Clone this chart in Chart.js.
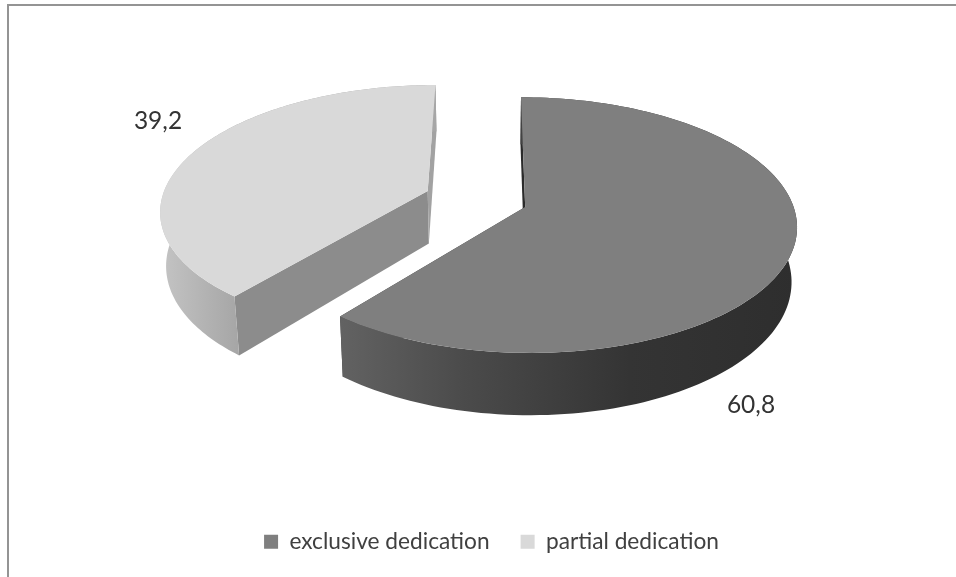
<!DOCTYPE html>
<html>
<head>
<meta charset="utf-8">
<title>Dedication</title>
<script src="https://cdn.jsdelivr.net/npm/chart.js@4/dist/chart.umd.min.js"></script>
<style>
    html, body { margin: 0; padding: 0; background: #fff; overflow: hidden; }
    #frame {
        position: absolute; left: 7px; top: 4px; right: 0; bottom: 0;
        border-top: 2px solid #949494; border-left: 2px solid #949494;
    }
    #dedicationChart { position: absolute; left: 0; top: 0; }
</style>
</head>
<body>
<div id="frame"></div>
<canvas id="dedicationChart" width="956" height="577"></canvas>
<script>
// Chart data
const categories = ['exclusive dedication', 'partial dedication'];
const shares = [60.8, 39.2];

// Colours per slice
const topColors = ['#7f7f7f', '#d9d9d9'];
const startCutColors = ['#2b2b2b', '#8c8c8c'];
const endCutColors = ['#3a3a3a', '#a2a2a2'];
const wallStops = [
    [[341, '#626262'], [463, '#4b4b4b'], [630, '#343434'], [796, '#2e2e2e']],
    [[161, '#c4c4c4'], [238, '#a6a6a6']]
];
const labelSpots = [[751, 405], [158, 121]];

// Perspective settings for the tilted pie
const view = {
    halfWidth: 266,     // px across for one radius
    halfDepth: 123,     // px down for one radius
    lean: 0.14,         // how fast things shrink going away from the viewer
    panX: -15.5,
    originY: 199,
    thickness: 53,
    baseShrink: 0.982
};

// Turns a point of the flat pie (in radius units) into canvas coordinates
function project(arc, pu, pv, atBase) {
    const w = 1 - view.lean * pv;
    let x = (pu * view.halfWidth + view.panX) / w;
    let y = view.originY + pv * view.halfDepth / w;
    if (atBase) {
        x *= view.baseShrink;
        y += view.thickness / w;
    }
    return [arc.x + x, y];
}

function pieOutline(ctx, points) {
    ctx.beginPath();
    points.forEach((p, i) => (i ? ctx.lineTo(p[0], p[1]) : ctx.moveTo(p[0], p[1])));
    ctx.closePath();
}

function drawSlice(chart, ctx, arc, index) {
    const R = arc.outerRadius;
    const mid = (arc.startAngle + arc.endAngle) / 2;
    const shift = (arc.options.offset || 0) / 4 / R;
    const ox = Math.cos(mid) * shift;
    const oy = Math.sin(mid) * shift;

    const steps = 140;
    const rimAngles = [];
    for (let i = 0; i <= steps; i++) {
        rimAngles.push(arc.startAngle + (arc.endAngle - arc.startAngle) * i / steps);
    }
    const rim = base => rimAngles.map(a => project(arc, ox + Math.cos(a), oy + Math.sin(a), base));
    const rimTop = rim(false);
    const rimBase = rim(true);
    const apexTop = project(arc, ox, oy, false);
    const apexBase = project(arc, ox, oy, true);

    // cut faces first, the top face hides whatever is turned away
    ctx.fillStyle = startCutColors[index];
    pieOutline(ctx, [apexTop, rimTop[0], rimBase[0], apexBase]);
    ctx.fill();
    ctx.fillStyle = endCutColors[index];
    pieOutline(ctx, [apexTop, rimTop[steps], rimBase[steps], apexBase]);
    ctx.fill();

    // outer wall
    const stops = wallStops[index];
    const x0 = stops[0][0];
    const x1 = stops[stops.length - 1][0];
    const grad = ctx.createLinearGradient(x0, 0, x1, 0);
    stops.forEach(s => grad.addColorStop((s[0] - x0) / (x1 - x0), s[1]));
    ctx.fillStyle = grad;
    pieOutline(ctx, rimTop.concat(rimBase.slice().reverse()));
    ctx.fill();

    // top face
    ctx.fillStyle = arc.options.backgroundColor;
    pieOutline(ctx, [apexTop].concat(rimTop));
    ctx.fill();
}

const tiltedPie = {
    id: 'tiltedPie',
    beforeDatasetDraw(chart, args) {
        const ctx = chart.ctx;
        ctx.save();
        args.meta.data.forEach((arc, i) => drawSlice(chart, ctx, arc, i));
        ctx.restore();
        return false;
    },
    afterDatasetsDraw(chart) {
        const ctx = chart.ctx;
        ctx.save();
        ctx.font = '24.5px Lato';
        ctx.fillStyle = '#333333';
        ctx.textAlign = 'center';
        ctx.textBaseline = 'middle';
        shares.forEach((v, i) => {
            ctx.fillText(String(v).replace('.', ','), labelSpots[i][0], labelSpots[i][1]);
        });
        ctx.restore();
    }
};

new Chart(document.getElementById('dedicationChart'), {
    type: 'pie',
    data: {
        labels: categories,
        datasets: [{
            data: shares,
            backgroundColor: topColors,
            borderWidth: 0,
            offset: 140
        }]
    },
    options: {
        responsive: false,
        animation: false,
        layout: { padding: { left: 27, bottom: 14 } },
        plugins: {
            tooltip: { enabled: false },
            legend: {
                position: 'bottom',
                onClick: null,
                labels: {
                    boxWidth: 14,
                    boxHeight: 14,
                    padding: 31,
                    color: '#404040',
                    font: { family: 'Lato', size: 22.7 }
                }
            }
        }
    },
    plugins: [tiltedPie]
});
</script>
</body>
</html>
